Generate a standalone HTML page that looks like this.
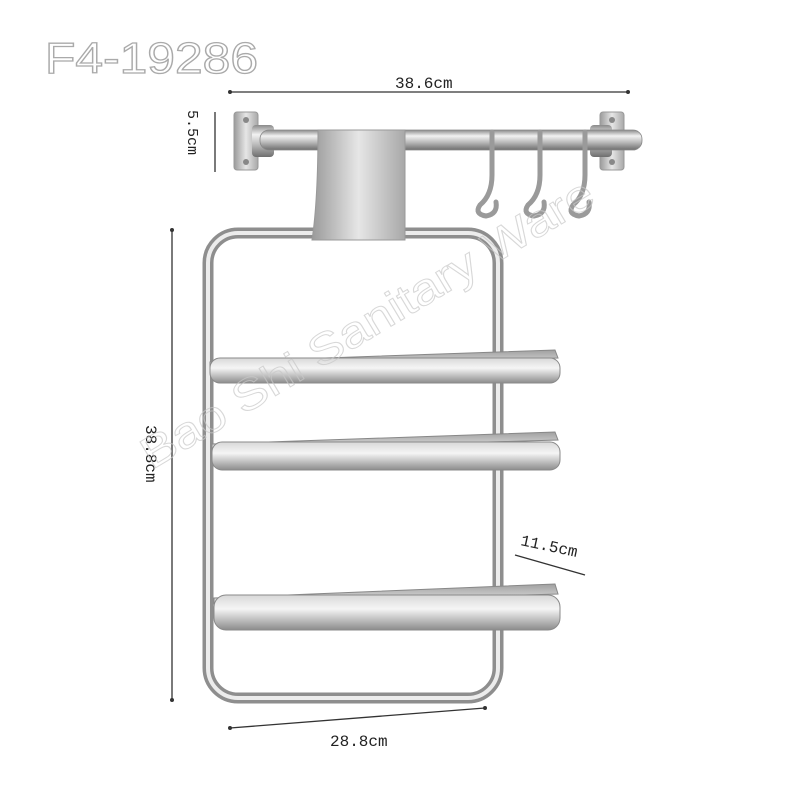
<!DOCTYPE html>
<html><head><meta charset="utf-8">
<style>
html,body{margin:0;padding:0;background:#fff;}
svg{display:block;}
text{font-family:"Liberation Mono",monospace;}
</style></head>
<body>
<svg width="800" height="800" viewBox="0 0 800 800" xmlns="http://www.w3.org/2000/svg">
<defs>
<linearGradient id="rodV" x1="0" y1="0" x2="0" y2="1">
<stop offset="0" stop-color="#8a8a8a"/><stop offset="0.3" stop-color="#f2f2f2"/><stop offset="0.6" stop-color="#bdbdbd"/><stop offset="1" stop-color="#6e6e6e"/>
</linearGradient>
<linearGradient id="brk" x1="0" y1="0" x2="1" y2="0">
<stop offset="0" stop-color="#9a9a9a"/><stop offset="0.5" stop-color="#e6e6e6"/><stop offset="1" stop-color="#a8a8a8"/>
</linearGradient>
<linearGradient id="shelf" x1="0" y1="0" x2="0" y2="1">
<stop offset="0" stop-color="#d8d8d8"/><stop offset="0.4" stop-color="#f5f5f5"/><stop offset="1" stop-color="#8c8c8c"/>
</linearGradient>
<linearGradient id="tray" x1="0" y1="0" x2="0" y2="1">
<stop offset="0" stop-color="#a0a0a0"/><stop offset="1" stop-color="#e8e8e8"/>
</linearGradient>
</defs>

<text x="45" y="73" style="font-family:'Liberation Sans',sans-serif" font-size="44" textLength="213" lengthAdjust="spacingAndGlyphs" fill="#fff" stroke="#aaa" stroke-width="1.3">F4-19286</text>

<line x1="230" y1="92" x2="628" y2="92" stroke="#333" stroke-width="1.3"/>
<circle cx="230" cy="92" r="2" fill="#333"/><circle cx="628" cy="92" r="2" fill="#333"/>
<text x="395" y="88" font-size="16" fill="#222">38.6cm</text>

<line x1="215" y1="112" x2="215" y2="172" stroke="#333" stroke-width="1.3"/>
<text transform="translate(188,110) rotate(90)" font-size="15" fill="#222">5.5cm</text>

<line x1="172" y1="230" x2="172" y2="700" stroke="#333" stroke-width="1.3"/>
<circle cx="172" cy="230" r="2" fill="#333"/><circle cx="172" cy="700" r="2" fill="#333"/>
<text transform="translate(146,425) rotate(90)" font-size="16" fill="#222">38.8cm</text>

<line x1="230" y1="728" x2="485" y2="708" stroke="#333" stroke-width="1.3"/>
<circle cx="230" cy="728" r="2" fill="#333"/><circle cx="485" cy="708" r="2" fill="#333"/>
<text x="330" y="746" font-size="16" fill="#222">28.8cm</text>

<line x1="515" y1="555" x2="585" y2="575" stroke="#333" stroke-width="1.3"/>
<text transform="translate(520,545) rotate(12)" font-size="16" fill="#222">11.5cm</text>

<rect x="234" y="112" width="24" height="58" rx="3" fill="url(#brk)" stroke="#999"/>
<rect x="600" y="112" width="24" height="58" rx="3" fill="url(#brk)" stroke="#999"/>
<circle cx="246" cy="120" r="3" fill="#888"/><circle cx="246" cy="162" r="3" fill="#888"/>
<circle cx="612" cy="120" r="3" fill="#888"/><circle cx="612" cy="162" r="3" fill="#888"/>
<rect x="252" y="125" width="22" height="32" rx="4" fill="url(#rodV)"/>
<rect x="590" y="125" width="22" height="32" rx="4" fill="url(#rodV)"/>
<rect x="260" y="130" width="382" height="20" rx="9" fill="url(#rodV)" stroke="#888" stroke-width="0.8"/>

<g fill="none" stroke="#9a9a9a" stroke-width="5" stroke-linecap="round">
<path d="M492 132 L492 175 Q492 195 480 205 Q474 214 486 216 Q498 214 496 202"/>
<path d="M540 132 L540 175 Q540 195 528 205 Q522 214 534 216 Q546 214 544 202"/>
<path d="M585 132 L585 175 Q585 195 573 205 Q567 214 579 216 Q591 214 589 202"/>
</g>

<rect x="208" y="233" width="290" height="465" rx="30" fill="none" stroke="#8e8e8e" stroke-width="11"/>
<rect x="208" y="233" width="290" height="465" rx="30" fill="none" stroke="#ececec" stroke-width="4"/>

<path d="M318 130 L405 130 L405 240 L312 240 Q318 200 318 130 Z" fill="url(#brk)" stroke="#999"/>

<g>
<polygon points="210,362 555,350 558,358 210,368" fill="url(#tray)" stroke="#888"/>
<rect x="210" y="358" width="350" height="25" rx="10" fill="url(#shelf)" stroke="#8a8a8a"/>
<polygon points="212,444 555,432 558,440 212,450" fill="url(#tray)" stroke="#888"/>
<rect x="212" y="442" width="348" height="28" rx="10" fill="url(#shelf)" stroke="#8a8a8a"/>
<polygon points="214,598 555,584 558,594 214,604" fill="url(#tray)" stroke="#888"/>
<rect x="214" y="595" width="346" height="35" rx="12" fill="url(#shelf)" stroke="#8a8a8a"/>
</g>

<text transform="translate(152,470) rotate(-31)" style="font-family:'Liberation Sans',sans-serif" font-size="44" textLength="520" lengthAdjust="spacingAndGlyphs" fill="none" stroke="#c8c8c8" stroke-width="1" opacity="0.7">Bao Shi Sanitary Ware</text>
</svg>
</body></html>
